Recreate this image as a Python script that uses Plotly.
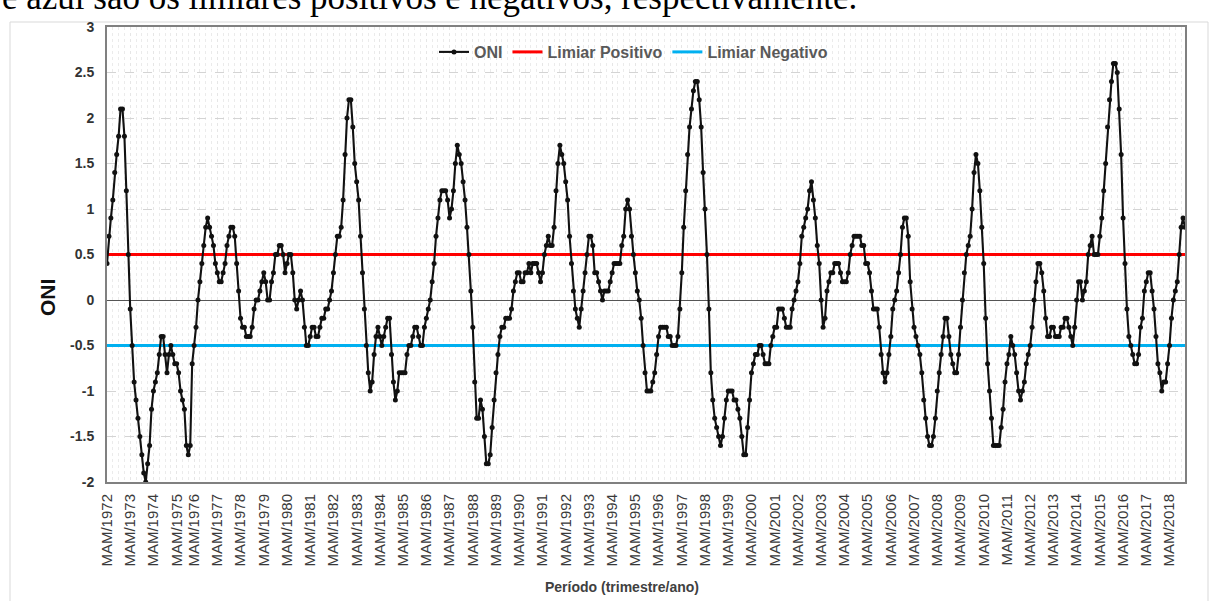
import plotly.graph_objects as go

# ---------------- data (ONI, 3-month running seasons) ----------------
seasons = ["DJF", "JFM", "FMA", "MAM", "AMJ", "MJJ", "JJA", "JAS", "ASO", "SON", "OND", "NDJ"]

oni_1972 = [None, None, None, 0.4, 0.7, 0.9, 1.1, 1.4, 1.6, 1.8, 2.1, 2.1]
oni_1973 = [1.8, 1.2, 0.5, -0.1, -0.5, -0.9, -1.1, -1.3, -1.5, -1.7, -1.9, -2.0]
oni_1974 = [-1.8, -1.6, -1.2, -1.0, -0.9, -0.8, -0.6, -0.4, -0.4, -0.6, -0.8, -0.6]
oni_1975 = [-0.5, -0.6, -0.7, -0.7, -0.8, -1.0, -1.1, -1.2, None, None, -1.6, -1.7]
oni_1976 = [-1.6, None, -0.7, -0.5, -0.3, 0.0, 0.2, 0.4, 0.6, 0.8, 0.9, 0.8]
oni_1977 = [0.7, 0.6, 0.4, 0.3, 0.2, 0.2, 0.3, 0.4, 0.6, 0.7, 0.8, 0.8]
oni_1978 = [0.7, 0.4, 0.1, -0.2, -0.3, -0.3, -0.4, -0.4, -0.4, -0.3, -0.1, 0.0]
oni_1979 = [0.0, 0.1, 0.2, 0.3, 0.2, 0.0, 0.0, 0.2, 0.3, 0.5, 0.5, 0.6]
oni_1980 = [0.6, 0.5, 0.3, 0.4, 0.5, 0.5, 0.3, 0.0, -0.1, 0.0, 0.1, 0.0]
oni_1981 = [-0.3, -0.5, -0.5, -0.4, -0.3, -0.3, -0.4, -0.4, -0.3, -0.2, -0.2, -0.1]
oni_1982 = [-0.1, 0.0, 0.1, 0.3, 0.5, 0.7, 0.7, 0.8, 1.1, 1.6, 2.0, 2.2]
oni_1983 = [2.2, 1.9, 1.5, 1.3, 1.1, 0.7, 0.3, -0.1, -0.5, -0.8, -1.0, -0.9]
oni_1984 = [-0.6, -0.4, -0.3, -0.4, -0.5, -0.4, -0.3, -0.2, -0.2, -0.6, -0.9, -1.1]
oni_1985 = [-1.0, -0.8, -0.8, -0.8, -0.8, -0.6, -0.5, -0.5, -0.4, -0.3, -0.3, -0.4]
oni_1986 = [-0.5, -0.5, -0.3, -0.2, -0.1, 0.0, 0.2, 0.4, 0.7, 0.9, 1.1, 1.2]
oni_1987 = [1.2, 1.2, 1.1, 0.9, 1.0, 1.2, 1.5, 1.7, 1.6, 1.5, 1.3, 1.1]
oni_1988 = [0.8, 0.5, 0.1, -0.3, -0.9, -1.3, -1.3, -1.1, -1.2, -1.5, -1.8, -1.8]
oni_1989 = [-1.7, -1.4, -1.1, -0.8, -0.6, -0.4, -0.3, -0.3, -0.2, -0.2, -0.2, -0.1]
oni_1990 = [0.1, 0.2, 0.3, 0.3, 0.2, 0.2, 0.3, 0.3, 0.4, 0.3, 0.4, 0.4]
oni_1991 = [0.4, 0.3, 0.2, 0.3, 0.5, 0.6, 0.7, 0.6, 0.6, 0.8, 1.2, 1.5]
oni_1992 = [1.7, 1.6, 1.5, 1.3, 1.1, 0.7, 0.4, 0.1, -0.1, -0.2, -0.3, -0.1]
oni_1993 = [0.1, 0.3, 0.5, 0.7, 0.7, 0.6, 0.3, 0.3, 0.2, 0.1, 0.0, 0.1]
oni_1994 = [0.1, 0.1, 0.2, 0.3, 0.4, 0.4, 0.4, 0.4, 0.6, 0.7, 1.0, 1.1]
oni_1995 = [1.0, 0.7, 0.5, 0.3, 0.1, 0.0, -0.2, -0.5, -0.8, -1.0, -1.0, -1.0]
oni_1996 = [-0.9, -0.8, -0.6, -0.4, -0.3, -0.3, -0.3, -0.3, -0.4, -0.4, -0.5, -0.5]
oni_1997 = [-0.5, -0.4, -0.1, 0.3, 0.8, 1.2, 1.6, 1.9, 2.1, 2.3, 2.4, 2.4]
oni_1998 = [2.2, 1.9, 1.4, 1.0, 0.5, -0.1, -0.8, -1.1, -1.3, -1.4, -1.5, -1.6]
oni_1999 = [-1.5, -1.3, -1.1, -1.0, -1.0, -1.0, -1.1, -1.1, -1.2, -1.3, -1.5, -1.7]
oni_2000 = [-1.7, -1.4, -1.1, -0.8, -0.7, -0.6, -0.6, -0.5, -0.5, -0.6, -0.7, -0.7]
oni_2001 = [-0.7, -0.5, -0.4, -0.3, -0.3, -0.1, -0.1, -0.1, -0.2, -0.3, -0.3, -0.3]
oni_2002 = [-0.1, 0.0, 0.1, 0.2, 0.4, 0.7, 0.8, 0.9, 1.0, 1.2, 1.3, 1.1]
oni_2003 = [0.9, 0.6, 0.4, 0.0, -0.3, -0.2, 0.1, 0.2, 0.3, 0.3, 0.4, 0.4]
oni_2004 = [0.4, 0.3, 0.2, 0.2, 0.2, 0.3, 0.5, 0.6, 0.7, 0.7, 0.7, 0.7]
oni_2005 = [0.6, 0.6, 0.4, 0.4, 0.3, 0.1, -0.1, -0.1, -0.1, -0.3, -0.6, -0.8]
oni_2006 = [-0.9, -0.8, -0.6, -0.4, -0.1, 0.0, 0.1, 0.3, 0.5, 0.8, 0.9, 0.9]
oni_2007 = [0.7, 0.2, -0.1, -0.3, -0.4, -0.5, -0.6, -0.8, -1.1, -1.3, -1.5, -1.6]
oni_2008 = [-1.6, -1.5, -1.3, -1.0, -0.8, -0.6, -0.4, -0.2, -0.2, -0.4, -0.6, -0.7]
oni_2009 = [-0.8, -0.8, -0.6, -0.3, 0.0, 0.3, 0.5, 0.6, 0.7, 1.0, 1.4, 1.6]
oni_2010 = [1.5, 1.2, 0.8, 0.4, -0.2, -0.7, -1.0, -1.3, -1.6, -1.6, -1.6, -1.6]
oni_2011 = [-1.4, -1.2, -0.9, -0.7, -0.6, -0.4, -0.5, -0.6, -0.8, -1.0, -1.1, -1.0]
oni_2012 = [-0.9, -0.7, -0.6, -0.5, -0.3, 0.0, 0.2, 0.4, 0.4, 0.3, 0.1, -0.2]
oni_2013 = [-0.4, -0.4, -0.3, -0.3, -0.4, -0.4, -0.4, -0.3, -0.3, -0.2, -0.2, -0.3]
oni_2014 = [-0.4, -0.5, -0.3, 0.0, 0.2, 0.2, 0.0, 0.1, 0.2, 0.5, 0.6, 0.7]
oni_2015 = [0.5, 0.5, 0.5, 0.7, 0.9, 1.2, 1.5, 1.9, 2.2, 2.4, 2.6, 2.6]
oni_2016 = [2.5, 2.1, 1.6, 0.9, 0.4, -0.1, -0.4, -0.5, -0.6, -0.7, -0.7, -0.6]
oni_2017 = [-0.3, -0.2, 0.1, 0.2, 0.3, 0.3, 0.1, -0.1, -0.4, -0.7, -0.8, -1.0]
oni_2018 = [-0.9, -0.9, -0.7, -0.5, -0.2, 0.0, 0.1, 0.2, 0.5, 0.8, 0.9, 0.8]

years = list(range(1972, 2019))
year_values = [
    oni_1972, oni_1973, oni_1974, oni_1975, oni_1976, oni_1977, oni_1978, oni_1979,
    oni_1980, oni_1981, oni_1982, oni_1983, oni_1984, oni_1985, oni_1986, oni_1987,
    oni_1988, oni_1989, oni_1990, oni_1991, oni_1992, oni_1993, oni_1994, oni_1995,
    oni_1996, oni_1997, oni_1998, oni_1999, oni_2000, oni_2001, oni_2002, oni_2003,
    oni_2004, oni_2005, oni_2006, oni_2007, oni_2008, oni_2009, oni_2010, oni_2011,
    oni_2012, oni_2013, oni_2014, oni_2015, oni_2016, oni_2017, oni_2018,
]

limiar_positivo = 0.5
limiar_negativo = -0.5

y_tick_vals = [-2, -1.5, -1, -0.5, 0, 0.5, 1, 1.5, 2, 2.5, 3]
y_tick_text = ["-2", "-1.5", "-1", "-0.5", "0", "0.5", "1", "1.5", "2", "2.5", "3"]

# ---------------- build series ----------------
categories, oni = [], []
for year, vals in zip(years, year_values):
    for season, v in zip(seasons, vals):
        if v is not None:
            categories.append(f"{season}/{year}")
            oni.append(v)
x_idx = list(range(len(oni)))
tick_idx = [i for i, c in enumerate(categories) if c.startswith("MAM")]
tick_text = [categories[i] for i in tick_idx]

# ---------------- geometry helpers ----------------
W, H = 1216, 601
PL, PR, PT, PB = 107, 1185, 27, 482


def px_x(px):
    return (px - PL) / (PR - PL)


def px_y(py):
    return (PB - py) / (PB - PT)


FONT = "Liberation Sans, Arial, sans-serif"

fig = go.Figure()
fig.add_trace(go.Scatter(
    x=[x_idx[0], x_idx[-1]], y=[limiar_positivo, limiar_positivo],
    mode="lines", name="Limiar Positivo", legendrank=2,
    line=dict(color="#ff0000", width=3), hoverinfo="skip",
))
fig.add_trace(go.Scatter(
    x=[x_idx[0], x_idx[-1]], y=[limiar_negativo, limiar_negativo],
    mode="lines", name="Limiar Negativo", legendrank=3,
    line=dict(color="#00b0f0", width=3), hoverinfo="skip",
))
fig.add_trace(go.Scatter(
    x=x_idx, y=oni, text=categories, mode="lines+markers", name="ONI", legendrank=1,
    line=dict(color="#111111", width=2.1),
    marker=dict(color="#111111", size=5),
    hovertemplate="%{text}: %{y}<extra></extra>",
))

fig.update_layout(
    width=W, height=H,
    margin=dict(l=PL, r=W - PR, t=PT, b=H - PB),
    paper_bgcolor="white", plot_bgcolor="white",
    font=dict(family=FONT, color="#404040"),
    showlegend=True,
    legend=dict(
        orientation="h", x=px_x(434), y=px_y(35), xanchor="left", yanchor="top",
        font=dict(family=FONT, size=16, color="#595959", weight="bold"),
        bgcolor="rgba(0,0,0,0)", itemwidth=30, tracegroupgap=0,
    ),
    xaxis=dict(
        range=[x_idx[0], x_idx[-1]],
        tickmode="array", tickvals=tick_idx, ticktext=tick_text,
        tickangle=-90, tickfont=dict(family=FONT, size=15, color="#3a3a3a"),
        ticks="", ticklabelstandoff=4,
        showgrid=True, gridcolor="#e6e6e6", gridwidth=1, griddash="dot",
        minor=dict(dtick=3, tick0=0, showgrid=True, gridcolor="#ebebeb",
                   gridwidth=1, griddash="dot", ticks=""),
        showline=True, linecolor="#808080", linewidth=2, mirror=True,
        zeroline=False,
    ),
    yaxis=dict(
        range=[-2, 3],
        tickmode="array", tickvals=y_tick_vals, ticktext=y_tick_text,
        tickfont=dict(family=FONT, size=14, color="#333333", weight="bold"),
        ticks="", ticklabelstandoff=8,
        showgrid=True, gridcolor="#d4d4d4", gridwidth=1, griddash="dash",
        showline=True, linecolor="#808080", linewidth=2, mirror=True,
        zeroline=True, zerolinecolor="#555555", zerolinewidth=1.2,
    ),
    shapes=[
        dict(type="rect", xref="paper", yref="paper",
             x0=px_x(10), x1=px_x(1208), y0=px_y(22), y1=px_y(640),
             line=dict(color="#d9d9d9", width=1), fillcolor="rgba(0,0,0,0)",
             layer="below"),
    ],
    annotations=[
        dict(text="e azul são os limiares positivos e negativos, respectivamente.",
             xref="paper", yref="paper", x=px_x(0), y=px_y(18.5),
             xanchor="left", yanchor="bottom", showarrow=False,
             font=dict(family="Liberation Serif, Times New Roman, serif", size=35,
                       color="#000000")),
        dict(text="<b>Período (trimestre/ano)</b>", xref="paper", yref="paper",
             x=px_x(622), y=px_y(587), xanchor="center", yanchor="middle",
             showarrow=False, font=dict(family=FONT, size=14, color="#404040")),
        dict(text="<b>ONI</b>", xref="paper", yref="paper",
             x=px_x(47), y=px_y(298), xanchor="center", yanchor="middle",
             textangle=-90, showarrow=False,
             font=dict(family=FONT, size=21, color="#111111")),
    ],
)

fig.write_html("out.html")
